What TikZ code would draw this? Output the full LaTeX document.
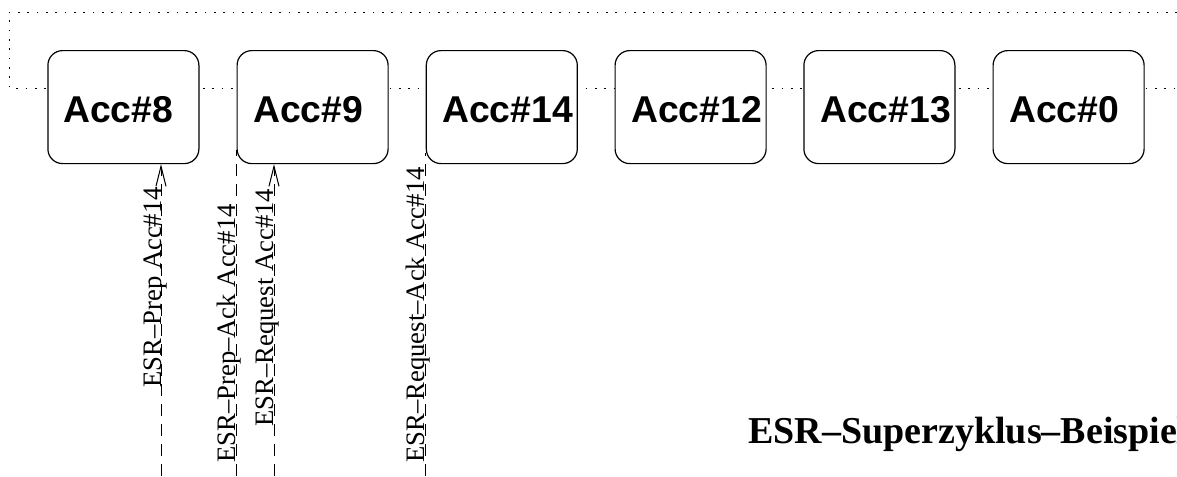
\documentclass[tikz,border=0pt]{standalone}
\usepackage{fontspec}
\setmainfont{Liberation Serif}
\newfontfamily\boxfont{Liberation Sans}
\usetikzlibrary{arrows.meta}
\begin{document}
\begin{tikzpicture}[x=0.75pt,y=-0.75pt,
  ring/.style={line width=0.75pt, dash pattern=on 1.2pt off 5.8pt},
  accbox/.style={draw, line width=0.9pt, rounded corners=11pt, fill=white,
    minimum width=113.25pt, minimum height=84.75pt, inner sep=0pt, anchor=north west},
  acctext/.style={font=\boxfont\bfseries\fontsize{28}{30}\selectfont, anchor=base west, inner sep=0pt},
  msg/.style={line width=0.75pt, dash pattern=on 9pt off 6pt},
  tip/.style={-{Straight Barb[length=15pt,width=7.5pt,line width=0.75pt]}},
  msgtext/.style={font=\fontsize{20}{22}\selectfont, rotate=90, anchor=base west, inner sep=0pt},
  titletext/.style={font=\bfseries\fontsize{28.5}{30}\selectfont, anchor=base west, inner sep=0pt}]
\useasboundingbox (0,0) rectangle (1177,476);
\clip (0,0) rectangle (1177,476);
% dotted ring
\coordinate (r1) at (1177,12);
\coordinate (r2) at (9.3,12);
\coordinate (r3) at (9.3,88);
\coordinate (r4) at (1177,88);
\draw[ring] (r1) -- (r2) -- (r3) -- (r4);
% boxes
\node[accbox] (b1) at (47.3,50) {};
\node[accbox] (b2) at (236.5,50) {};
\node[accbox] (b3) at (425.7,50) {};
\node[accbox] (b4) at (614.5,50) {};
\node[accbox] (b5) at (803.3,50) {};
\node[accbox] (b6) at (992.5,50) {};
\node[acctext] (t1) at (63,122) {Acc\#8};
\node[acctext] (t2) at (253,122) {Acc\#9};
\node[acctext] (t3) at (442,122) {Acc\#14};
\node[acctext] (t4) at (631,122) {Acc\#12};
\node[acctext] (t5) at (820,122) {Acc\#13};
\node[acctext] (t6) at (1009,122) {Acc\#0};
% message lines
\coordinate (m1) at (161,476);
\coordinate (m2) at (236.7,476);
\coordinate (m2e) at (236.7,150);
\coordinate (m3) at (274,476);
\coordinate (m4) at (425.7,476);
\coordinate (m4e) at (425.7,153);
\draw[msg,tip] (m1) -- (m1 |- b1.south);
\draw[msg] (m2) -- (m2e);
\draw[msg,tip] (m3) -- (m3 |- b2.south);
\draw[msg] (m4) -- (m4e);
% labels
\node[msgtext] (l1) at (161,388) {ESR–Prep Acc\#14};
\node[msgtext] (l2) at (235.5,463) {ESR–Prep–Ack Acc\#14};
\node[msgtext] (l3) at (273,427) {ESR–Request Acc\#14};
\node[msgtext] (l4) at (424.5,463) {ESR–Request–Ack Acc\#14};
% title
\node[titletext] (title) at (748,443) {ESR–Superzyklus–Beispiel};
\end{tikzpicture}
\end{document}
